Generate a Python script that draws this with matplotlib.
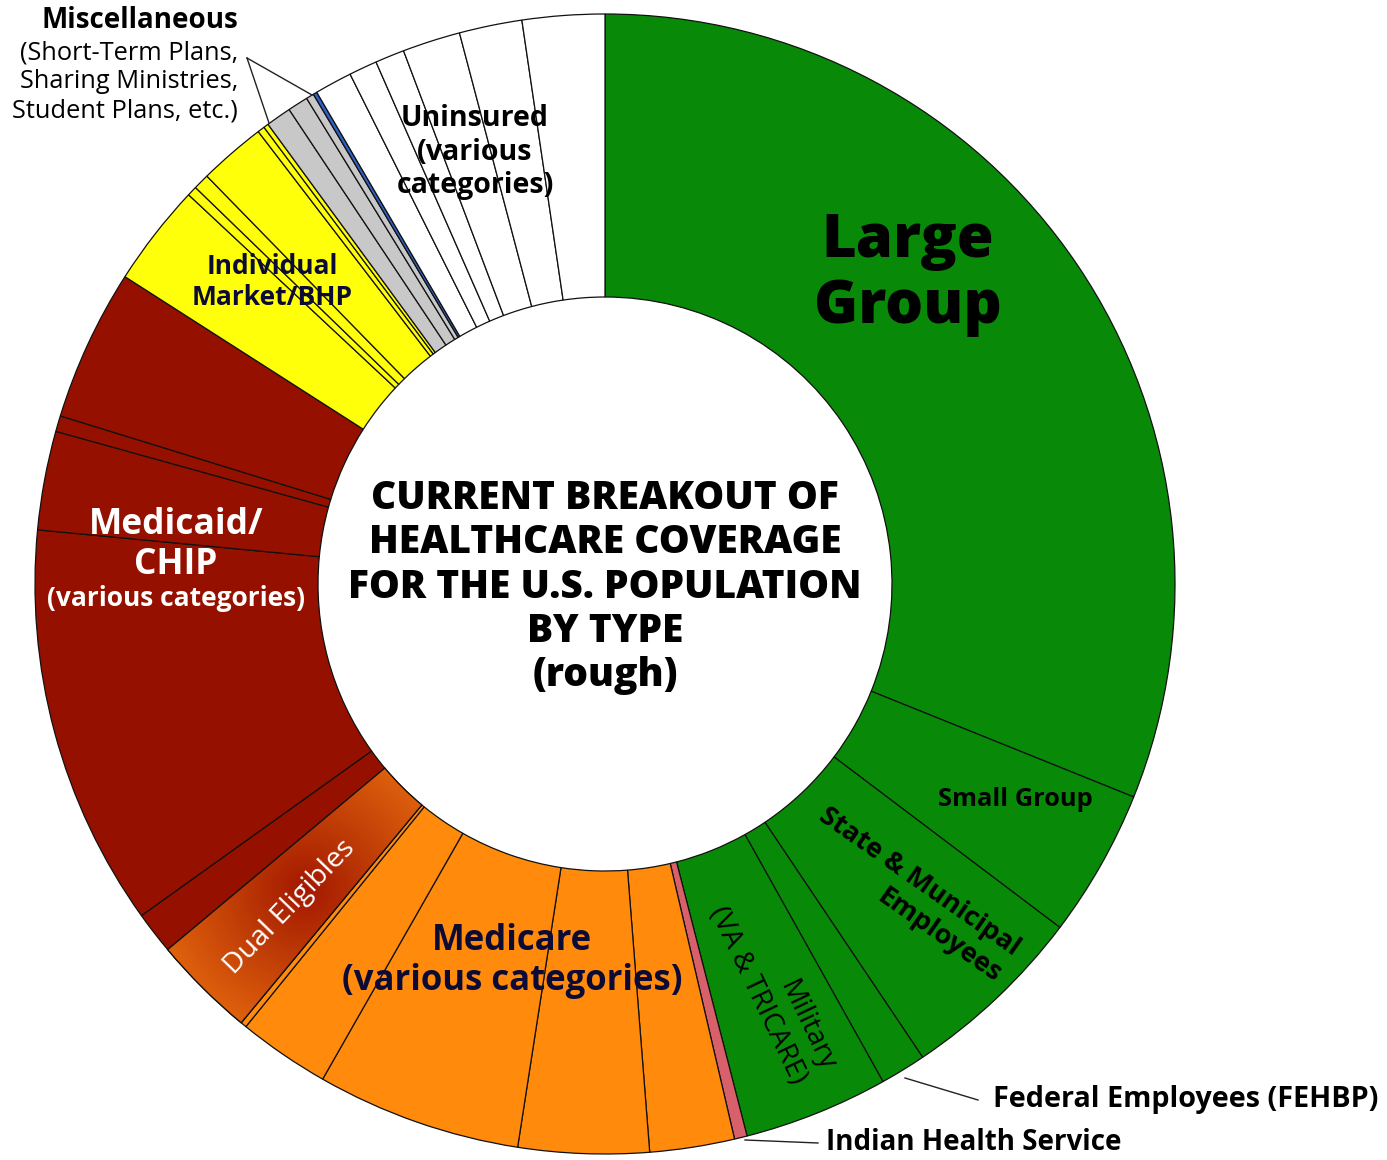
import numpy as np
import matplotlib
matplotlib.use("Agg")
import matplotlib.pyplot as plt

# shares of the U.S. population (rough, percent), read clockwise from 12 o'clock
employer_values = [31.1, 4.2, 5.3, 1.3]          # large group, small group, state & municipal, federal
military_values = [4.1]
ihs_values = [0.36]
medicare_values = [2.4, 3.7, 5.8, 2.6, 0.17]
dual_values = [2.9]
medicaid_values = [1.2, 11.4, 2.8, 0.45, 4.3]
individual_values = [2.9, 0.28, 0.45, 1.9, 0.2, 0.14]
misc_values = [0.72, 0.58, 0.22, 0.11]
uninsured_values = [1.06, 0.8, 0.83, 1.64, 1.78, 2.33]

GREEN = "#088A08"
PINK = "#D8606A"
ORANGE = "#FF8A0C"
DUAL_ORANGE = "#E4680E"
DUAL_RED = "#A21800"
RED = "#961000"
YELLOW = "#FFFF0A"
GREY = "#C8C8C8"
BLUE = "#2F62C8"
NAVY = "#0B0B35"

values = (employer_values + military_values + ihs_values + medicare_values
          + dual_values + medicaid_values + individual_values + misc_values
          + uninsured_values)
colors = ([GREEN] * len(employer_values) + [GREEN] * len(military_values)
          + [PINK] * len(ihs_values) + [ORANGE] * len(medicare_values)
          + [DUAL_ORANGE] * len(dual_values) + [RED] * len(medicaid_values)
          + [YELLOW] * len(individual_values)
          + [GREY] * (len(misc_values) - 1) + [BLUE]
          + ["white"] * len(uninsured_values))
dual_index = (len(employer_values) + len(military_values) + len(ihs_values)
              + len(medicare_values))

W, H = 1387, 1160
CX, CY = 605, 584
R_OUT, R_IN = 570, 287

plt.rcParams["font.family"] = ["Open Sans", "DejaVu Sans"]

fig = plt.figure(figsize=(W / 100, H / 100), dpi=100)
ax = fig.add_axes([0, 0, 1, 1])


def Y(y):
    return H - y


wedges, _ = ax.pie(
    values,
    colors=colors,
    startangle=90,
    counterclock=False,
    center=(CX, Y(CY)),
    radius=R_OUT,
    wedgeprops=dict(width=R_OUT - R_IN, edgecolor="#111111", linewidth=0.9),
    frame=True,
)

# radial orange -> dark red shading inside the dual eligibles slice
dual = wedges[dual_index]
gx, gy = 305, Y(890)
xs = np.linspace(0, W, 700)
ys = np.linspace(0, H, 600)
XX, YY = np.meshgrid(xs, ys)
t = np.clip(np.hypot(XX - gx, YY - gy) / 160.0, 0, 1)
c0 = np.array(matplotlib.colors.to_rgb(DUAL_RED))
c1 = np.array(matplotlib.colors.to_rgb(DUAL_ORANGE))
img = c0[None, None, :] * (1 - t[..., None]) + c1[None, None, :] * t[..., None]
im = ax.imshow(img, extent=(0, W, 0, H), origin="lower", zorder=1.5,
               interpolation="bilinear")
im.set_clip_path(dual)
ax.add_patch(matplotlib.patches.Wedge(dual.center, dual.r, dual.theta1, dual.theta2,
                                      width=dual.width, facecolor="none",
                                      edgecolor="#111111", linewidth=0.9, zorder=1.6))
ax.set_xlim(0, W)
ax.set_ylim(0, H)
ax.axis("off")

# centre title
ax.text(CX, Y(587), "CURRENT BREAKOUT OF\nHEALTHCARE COVERAGE\nFOR THE U.S. POPULATION\nBY TYPE\n(rough)",
        ha="center", va="center", fontsize=28, fontweight="heavy", color="black",
        linespacing=1.18, zorder=5)

# slice labels
ax.text(908, Y(274), "Large\nGroup", ha="center", va="center", fontsize=43,
        fontweight="heavy", color="black", linespacing=1.12, zorder=5)
ax.text(1015, Y(800), "Small Group", ha="center", va="center", fontsize=18.3,
        fontweight="bold", color="black", zorder=5)
ax.text(910, Y(895), "State & Municipal\nEmployees", ha="center", va="center",
        multialignment="right", fontsize=19.5, fontweight="bold", color="black",
        rotation=-35, rotation_mode="anchor", linespacing=1.35, zorder=5)
ax.text(772, Y(989), "Military\n(VA & TRICARE)", ha="center", va="center",
        multialignment="right", fontsize=20, color="black", rotation=-64.5,
        rotation_mode="anchor", linespacing=1.15, zorder=5)
ax.text(512, Y(961), "Medicare\n(various categories)", ha="center", va="center",
        fontsize=25, fontweight="bold", color=NAVY, linespacing=1.16, zorder=5)
ax.text(290, Y(907), "Dual Eligibles", ha="center", va="center", fontsize=20.5,
        color="white", rotation=46, rotation_mode="anchor", zorder=5)
ax.text(176, Y(545), "Medicaid/\nCHIP", ha="center", va="center", fontsize=25.5,
        fontweight="bold", color="white", linespacing=1.14, zorder=5)
ax.text(176, Y(599), "(various categories)", ha="center", va="center",
        fontsize=19, fontweight="bold", color="white", zorder=5)
ax.text(272, Y(282), "Individual\nMarket/BHP", ha="center", va="center",
        fontsize=19, fontweight="bold", color=NAVY, linespacing=1.16, zorder=5)
ax.text(475, Y(152), "Uninsured\n(various\ncategories)", ha="center", va="center",
        fontsize=20.5, fontweight="bold", color="black", linespacing=1.22, zorder=5)

# outside labels with leader lines
ax.text(140, Y(20), "Miscellaneous", ha="center", va="center", fontsize=20,
        fontweight="bold", color="black", zorder=5)
ax.text(238, Y(82), "(Short-Term Plans,\nSharing Ministries,\nStudent Plans, etc.)",
        ha="right", va="center", fontsize=18.3, color="black", linespacing=1.21,
        zorder=5)
ax.plot([247, 269], [Y(58), Y(123)], color="#222222", lw=1, zorder=5)
ax.plot([247, 312], [Y(58), Y(95)], color="#222222", lw=1, zorder=5)

ax.text(993, Y(1100), "Federal Employees (FEHBP)", ha="left", va="center",
        fontsize=20.7, fontweight="bold", color="black", zorder=5)
ax.plot([905, 978], [Y(1078), Y(1100)], color="#222222", lw=1, zorder=5)

ax.text(826, Y(1143), "Indian Health Service", ha="left", va="center",
        fontsize=20, fontweight="bold", color="black", zorder=5)
ax.plot([745, 818], [Y(1140), Y(1143)], color="#222222", lw=1, zorder=5)

fig.savefig("out.png", dpi=100, facecolor="white")
